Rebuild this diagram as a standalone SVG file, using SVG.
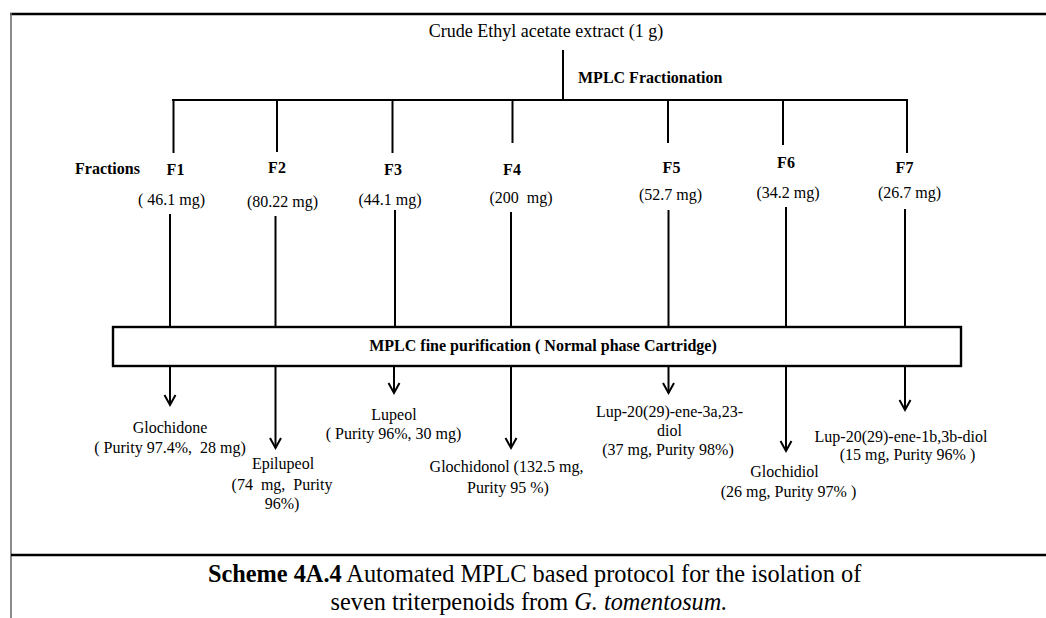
<svg xmlns="http://www.w3.org/2000/svg" width="1046" height="618" viewBox="0 0 1046 618">
  <style>
    text { font-family: "Liberation Serif", "Times New Roman", serif; fill: #000; }
    .t { font-size: 16px; }
    .big { font-size: 18px; }
    .b { font-weight: bold; }
    .m { text-anchor: middle; }
    .cap { font-size: 24.3px; }
    .ln { stroke: #000; stroke-width: 2; fill: none; }
    .frame { stroke: #000; stroke-width: 2.6; }
  </style>
  <defs>
    <marker id="vhead" markerUnits="userSpaceOnUse" viewBox="-12 -7 14 14" refX="0" refY="0" markerWidth="14" markerHeight="14" orient="auto" overflow="visible">
      <path d="M-10,-5.5 L0,0 L-10,5.5" fill="none" stroke="#000" stroke-width="2"/>
    </marker>
  </defs>
  <rect width="1046" height="618" fill="#fff"/>

  <!-- frame and caption rule -->
  <g id="frame">
    <line class="frame" x1="10" y1="14" x2="1046" y2="14"/>
    <line x1="11" y1="13" x2="11" y2="618" stroke="#6e6e6e" stroke-width="1.6"/>
    <line class="frame" x1="11" y1="555" x2="1046" y2="555"/>
  </g>

  <!-- connectors -->
  <g id="connectors" class="ln">
    <line x1="563" y1="50" x2="563" y2="100"/>
    <line x1="172" y1="100" x2="908" y2="100"/>
    <line x1="173.5" y1="100" x2="173.5" y2="153"/>
    <line x1="277" y1="100" x2="277" y2="152"/>
    <line x1="392.5" y1="100" x2="392.5" y2="153"/>
    <line x1="512.5" y1="100" x2="512.5" y2="143"/>
    <line x1="668" y1="100" x2="668" y2="143"/>
    <line x1="783" y1="100" x2="783" y2="145"/>
    <line x1="907" y1="100" x2="907" y2="153"/>

    <line x1="170" y1="214" x2="170" y2="327"/>
    <line x1="275.5" y1="216" x2="275.5" y2="327"/>
    <line x1="395" y1="210" x2="395" y2="327"/>
    <line x1="511" y1="212" x2="511" y2="327"/>
    <line x1="668.5" y1="210" x2="668.5" y2="327"/>
    <line x1="786" y1="207" x2="786" y2="327"/>
    <line x1="905" y1="209" x2="905" y2="327"/>

    <line x1="170" y1="366" x2="170" y2="405" marker-end="url(#vhead)"/>
    <line x1="275.5" y1="366" x2="275.5" y2="448" marker-end="url(#vhead)"/>
    <line x1="394" y1="366" x2="394" y2="393" marker-end="url(#vhead)"/>
    <line x1="511" y1="366" x2="511" y2="448" marker-end="url(#vhead)"/>
    <line x1="668.5" y1="366" x2="668.5" y2="393" marker-end="url(#vhead)"/>
    <line x1="786" y1="366" x2="786" y2="451" marker-end="url(#vhead)"/>
    <line x1="905" y1="366" x2="905" y2="410" marker-end="url(#vhead)"/>
  </g>

  <g id="crude-extract">
    <text class="big m" x="546" y="37">Crude Ethyl acetate extract (1 g)</text>
  </g>

  <g id="fractionation-label">
    <text class="t b" x="578" y="83">MPLC Fractionation</text>
  </g>

  <g id="fractions-label">
    <text class="t b" x="75" y="174">Fractions</text>
  </g>

  <g id="F1">
    <text class="t b m" x="175.5" y="175">F1</text>
    <text class="t m" x="171.5" y="205">( 46.1 mg)</text>
  </g>
  <g id="F2">
    <text class="t b m" x="277" y="173">F2</text>
    <text class="t m" x="282.5" y="207">(80.22 mg)</text>
  </g>
  <g id="F3">
    <text class="t b m" x="393" y="175">F3</text>
    <text class="t m" x="390" y="205">(44.1 mg)</text>
  </g>
  <g id="F4">
    <text class="t b m" x="512" y="175">F4</text>
    <text class="t m" x="521" y="203">(200&#160; mg)</text>
  </g>
  <g id="F5">
    <text class="t b m" x="671.5" y="173">F5</text>
    <text class="t m" x="670.5" y="200">(52.7 mg)</text>
  </g>
  <g id="F6">
    <text class="t b m" x="786" y="168">F6</text>
    <text class="t m" x="788" y="198">(34.2 mg)</text>
  </g>
  <g id="F7">
    <text class="t b m" x="904.5" y="173">F7</text>
    <text class="t m" x="909.5" y="198">(26.7 mg)</text>
  </g>

  <g id="fine-purification">
    <rect x="113" y="327" width="848" height="39" fill="#fff" stroke="#000" stroke-width="2.4"/>
    <text class="t b m" x="543" y="351">MPLC fine purification ( Normal phase Cartridge)</text>
  </g>

  <g id="glochidone">
    <text class="t m" x="170" y="433">Glochidone</text>
    <text class="t m" x="170" y="453">( Purity 97.4%,&#160; 28 mg)</text>
  </g>
  <g id="epilupeol">
    <text class="t m" x="283" y="469">Epilupeol</text>
    <text class="t m" x="282" y="490">(74&#160; mg,&#160; Purity</text>
    <text class="t m" x="282" y="509">96%)</text>
  </g>
  <g id="lupeol">
    <text class="t m" x="394" y="420">Lupeol</text>
    <text class="t m" x="393.5" y="439">( Purity 96%, 30 mg)</text>
  </g>
  <g id="glochidonol">
    <text class="t m" x="506.5" y="472">Glochidonol (132.5 mg,</text>
    <text class="t m" x="508" y="493">Purity 95 %)</text>
  </g>
  <g id="lup-3a-23-diol">
    <text class="t m" x="669.5" y="417">Lup-20(29)-ene-3a,23-</text>
    <text class="t m" x="669.5" y="436">diol</text>
    <text class="t m" x="668" y="455">(37 mg, Purity 98%)</text>
  </g>
  <g id="glochidiol">
    <text class="t m" x="784.5" y="477">Glochidiol</text>
    <text class="t m" x="788.5" y="497">(26 mg, Purity 97% )</text>
  </g>
  <g id="lup-1b-3b-diol">
    <text class="t m" x="901" y="442">Lup-20(29)-ene-1b,3b-diol</text>
    <text class="t m" x="907.5" y="460">(15 mg, Purity 96% )</text>
  </g>

  <g id="caption">
    <text class="cap" x="208" y="582"><tspan font-weight="bold">Scheme 4A.4</tspan> Automated MPLC based protocol for the isolation of</text>
    <text class="cap m" x="529" y="610">seven triterpenoids from <tspan font-style="italic">G. tomentosum.</tspan></text>
  </g>
</svg>
